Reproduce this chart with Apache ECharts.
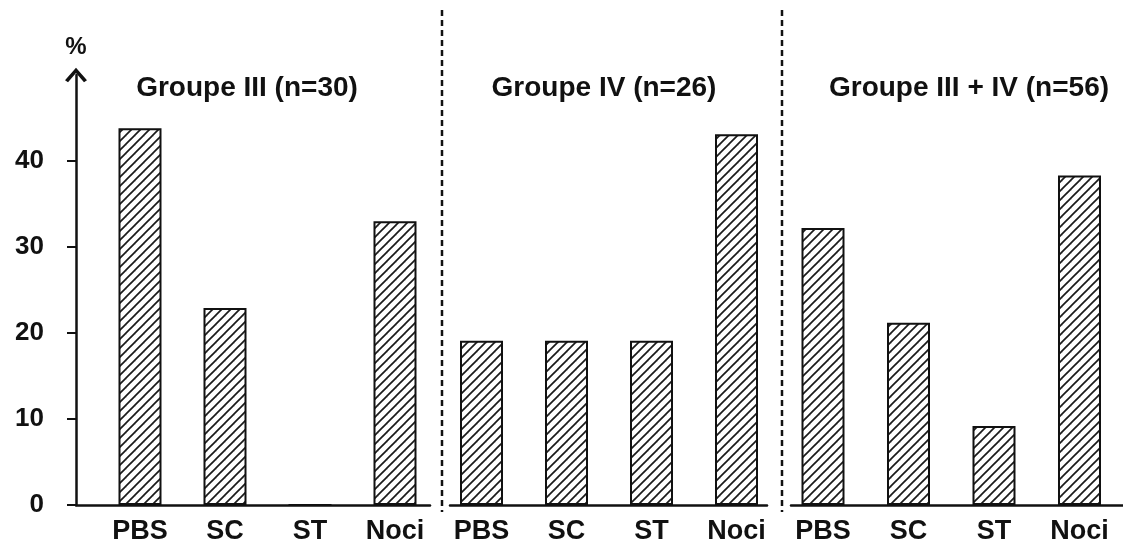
<!DOCTYPE html>
<html>
<head>
<meta charset="utf-8">
<script src="https://cdn.jsdelivr.net/npm/echarts@6/dist/echarts.min.js"></script>
<style>
html,body{margin:0;padding:0;background:#fff;}
#chart{width:1123px;height:549px;}
</style>
</head>
<body>
<div id="chart"></div>
<script>
// ---- data ----
const categories = ['PBS', 'SC', 'ST', 'Noci'];
const groupTitles = ['Groupe III (n=30)', 'Groupe IV (n=26)', 'Groupe III + IV (n=56)'];
const groupIII = [43.8, 22.9, 0, 33.0];
const groupIV = [19.1, 19.1, 19.1, 43.1];
const groupIIIplusIV = [32.2, 21.2, 9.2, 38.3];
const yTicks = [0, 10, 20, 30, 40];
const yUnit = '%';

const seriesValues = [groupIII, groupIV, groupIIIplusIV];

// ---- hatch pattern ----
function makeHatch() {
  const s = 9;
  const c = document.createElement('canvas');
  c.width = s; c.height = s;
  const ctx = c.getContext('2d');
  ctx.fillStyle = '#ffffff';
  ctx.fillRect(0, 0, s, s);
  ctx.strokeStyle = '#1a1a1a';
  ctx.lineWidth = 1.7;
  [-s, 0, s].forEach(function (o) {
    ctx.beginPath();
    ctx.moveTo(o - 1, s + 1);
    ctx.lineTo(o + s + 1, -1);
    ctx.stroke();
  });
  return c;
}
const hatch = makeHatch();

const FONT = '"Liberation Sans", Arial, sans-serif';
const INK = '#111111';

// layout of the three panels
const panels = [
  { left: 76, right: 1123 - 430, min: -0.7529, max: 3.4118, title: 242 },
  { left: 450, right: 1123 - 767, min: -0.3706, max: 3.3588, title: 599 },
  { left: 791, right: 0, min: -0.3743, max: 3.5088, title: 964 }
];

const grids = [], xAxes = [], yAxes = [], series = [], titles = [];
panels.forEach(function (p, i) {
  grids.push({ left: p.left, right: p.right, top: 75, bottom: 44, containLabel: false });
  xAxes.push({
    type: 'value', gridIndex: i, min: p.min, max: p.max,
    splitLine: { show: false },
    axisLine: { show: true, onZero: false, lineStyle: { color: INK, width: 2.5 } },
    axisTick: { show: false },
    axisLabel: {
      customValues: [0, 1, 2, 3],
      formatter: function (v) { return categories[Math.round(v)]; },
      color: INK, fontFamily: FONT, fontWeight: 'bold', fontSize: 27, margin: 13
    }
  });
  const yShow = i === 0;
  yAxes.push({
    type: 'value', gridIndex: i, min: 0, max: 50, interval: 10,
    show: yShow,
    position: 'left',
    name: yShow ? yUnit : '',
    nameLocation: 'end', nameGap: 16,
    nameTextStyle: { color: INK, fontFamily: FONT, fontWeight: 'bold', fontSize: 24, align: 'center' },
    splitLine: { show: false },
    axisLine: {
      show: yShow,
      onZero: false,
      lineStyle: { color: INK, width: 2.5 },
      symbol: ['none', 'path://M0 9 L8 0 L16 9 L13.8 10.4 L8 3.8 L2.2 10.4 Z'],
      symbolSize: [22, 16],
      symbolOffset: [0, 0]
    },
    axisTick: { show: yShow, customValues: yTicks, length: 9, lineStyle: { color: INK, width: 2 } },
    axisLabel: {
      show: yShow, customValues: yTicks, margin: 32,
      color: INK, fontFamily: FONT, fontWeight: 'bold', fontSize: 26
    }
  });
  series.push({
    type: 'bar', xAxisIndex: i, yAxisIndex: i,
    barWidth: 43,
    data: seriesValues[i].map(function (v, k) { return [k, v]; }),
    itemStyle: {
      color: { image: hatch, repeat: 'repeat' },
      borderColor: INK, borderWidth: 2
    },
    silent: true
  });
  titles.push({
    text: groupTitles[i], left: p.title, top: 69, textAlign: 'center',
    textStyle: { color: INK, fontFamily: FONT, fontWeight: 'bold', fontSize: 28 }
  });
});

const dashedLines = [442, 782].map(function (x) {
  return {
    type: 'line', z: 10,
    shape: { x1: x, y1: 10, x2: x, y2: 512 },
    style: { stroke: INK, lineWidth: 2.5, lineDash: [6, 4] }
  };
});

const chart = echarts.init(document.getElementById('chart'), null, { renderer: 'canvas' });
chart.setOption({
  animation: false,
  backgroundColor: '#ffffff',
  title: titles,
  grid: grids,
  xAxis: xAxes,
  yAxis: yAxes,
  series: series,
  graphic: dashedLines
});
</script>
</body>
</html>
